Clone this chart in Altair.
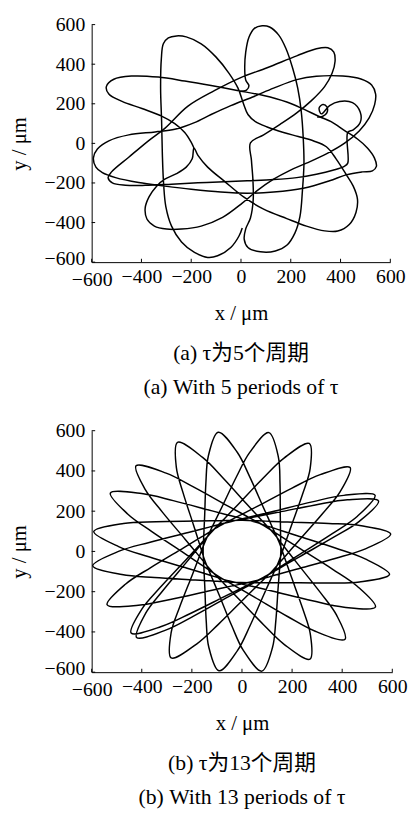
import altair as alt
import pandas as pd

FONT = "Liberation Serif, Noto Sans CJK SC"

# ---------------- panel (a): traced trajectory, two strokes (x, y in um) ----------------
a1_x = [5, -8, -41, -94, -134, -187, -239, -279, -302, -311, -316, -319, -323, -320, -312, -292, -259, -220,
        -160, -101, -48, -12, 9, 28, 58, 105, 171, 230, 290, 343, 382, 422, 451, 468, 462, 435, 389, 336,
        263, 184, 91, 12, -67, -134, -173, -189, -196, -220, -259, -306, -339, -369, -385, -378, -348, -299,
        -239, -160, -74, 5, 65, 131, 197, 263, 343, 415, 475, 515, 537, 541, 525, 482, 409, 303, 224, 131,
        52, -41, -120, -187, -266, -345, -451, -531, -577, -593, -583, -557, -504, -411, -306, -200, -81, 25,
        131, 250, 356, 422, 488, 528, 544, 536, 508, 468, 415, 362, 314, 250, 184, 91, -15, -120, -226, -332,
        -438, -511, -541, -531, -478, -398, -319, -266, -226, -202, -189]
a1_y = [-427, -468, -526, -568, -576, -551, -498, -418, -319, -203, -53, 113, 279, 428, 503, 533, 543, 538,
        503, 437, 354, 279, 204, 146, 110, 83, 55, 35, 13, -17, -78, -156, -216, -282, -349, -410, -443, -442,
        -418, -380, -332, -272, -191, -120, -61, -23, -78, -120, -153, -181, -216, -269, -327, -382, -418, -433,
        -433, -418, -374, -302, -239, -181, -136, -100, -53, 0, 63, 129, 196, 249, 295, 325, 340, 339, 322, 279,
        237, 191, 146, 105, 71, 58, 43, 13, -28, -73, -120, -148, -173, -198, -216, -232, -246, -252,
        -246, -227, -189, -159, -144, -139, -116, -73, -23, 22, 66, 110, 136, 174, 209, 242, 267, 292, 315, 335,
        340, 324, 287, 249, 212, 176, 138, 100, 55, 10, -23]

a2_x = [306, 327, 345, 345, 329, 314, 323, 356, 396, 448, 479, 479, 451, 429, 429, 415, 369, 303, 224, 131,
        25, -67, -173, -279, -385, -464, -517, -534, -520, -451, -372, -306, -213, -107, -1, 105, 224, 303,
        349, 373, 378, 366, 336, 283, 224, 157, 91, 38, 42, 48, 49, 38, 19, 13, 28, 78, 138, 184, 217, 237,
        247, 253, 250, 242, 228, 208, 181, 151, 115, 85, 54, 32, 19, 15, 19, 32, 22, -8]
a2_y = [133, 136, 154, 184, 196, 179, 149, 191, 212, 206, 159, 105, 68, 55, -100, -116, -136, -156, -173, -183,
        -189, -194, -199, -206, -212, -211, -199, -173, -144, -70, 13, 76, 188, 266, 332, 382, 442, 478,
        483, 461, 415, 354, 287, 216, 154, 96, 43, 3, -86, -186, -286, -377, -432, -485, -526, -548, -544, -515,
        -452, -369, -236, -103, 30, 163, 279, 378, 478, 548, 588, 594, 581, 536, 461, 378, 320, 291, 269, 262]

# ---------------- panel (b): rosette read in polar form (radius um, angle deg) ----------------
b_r = [155, 178, 234, 373, 493,
       600, 493, 373, 234, 178, 155, 178, 234, 373, 493,
       600, 493, 373, 234, 178, 155, 178, 234, 373, 493,
       600, 493, 373, 234, 178, 155, 178, 234, 373, 493,
       600, 493, 373, 234, 178, 155, 178, 234, 373, 493,
       600, 493, 373, 234, 178, 155, 178, 234, 373, 493,
       600, 493, 373, 234, 178, 155, 178, 234, 373, 493,
       600, 493, 373, 234, 178, 155, 178, 234, 373, 493,
       600, 493, 373, 234, 178, 155, 178, 234, 373, 493,
       600, 493, 373, 234, 178, 155, 178, 234, 373, 493,
       600, 493, 373, 234, 178, 155, 178, 234, 373, 493,
       600, 493, 373, 234, 178, 155, 178, 234, 373, 493,
       600, 493, 373, 234, 178, 155, 178, 234, 373, 493,
       600, 493, 373, 234, 178, 155, 178, 234, 373, 493,
       600, 493, 373, 234, 178, 155, 178, 234, 373, 493,
       600, 493, 373, 234, 178, 155, 178, 234, 373, 493,
       600, 493, 373, 234, 178, 155, 178, 234, 373, 493,
       600, 493, 373, 234, 178, 155, 178, 234, 373, 493,
       600, 493, 373, 234, 178, 155, 178, 234, 373, 493,
       600, 493, 373, 234, 178, 155, 178, 234, 373, 493,
       600, 493, 373, 234, 178, 155, 178, 234, 373, 493,
       600, 493, 373, 234, 178, 155, 178, 234, 373, 493,
       600, 493, 373, 234, 178, 155]
b_ang = [141.4, 172.9, 192.0, 208.8, 215.7,
         222.5, 229.2, 236.1, 252.9, 272.0, 303.5, 335.0, 354.1, 10.9, 17.8,
         24.7, 31.4, 38.3, 55.1, 74.2, 105.7, 137.2, 156.3, 173.1, 180.0,
         186.8, 193.5, 200.4, 217.2, 236.3, 267.8, 299.3, 318.4, 335.2, 342.1,
         349.0, 355.7, 2.6, 19.4, 38.5, 70.0, 101.5, 120.6, 137.4, 144.3,
         151.1, 157.8, 164.7, 181.5, 200.6, 232.1, 263.6, 282.7, 299.5, 306.4,
         313.3, 320.0, 326.9, 343.7, 2.8, 34.3, 65.8, 84.9, 101.7, 108.6,
         115.4, 122.1, 129.0, 145.8, 164.9, 196.4, 227.9, 247.0, 263.8, 270.7,
         277.6, 284.3, 291.2, 308.0, 327.1, 358.6, 30.1, 49.2, 66.0, 72.9,
         79.7, 86.4, 93.3, 110.1, 129.2, 160.7, 192.2, 211.3, 228.1, 235.0,
         241.9, 248.6, 255.5, 272.3, 291.4, 322.9, 354.4, 13.5, 30.3, 37.2,
         44.0, 50.7, 57.6, 74.4, 93.5, 125.0, 156.5, 175.6, 192.4, 199.3,
         206.2, 212.9, 219.8, 236.6, 255.7, 287.2, 318.7, 337.8, 354.6, 1.5,
         8.3, 15.0, 21.9, 38.7, 57.8, 89.3, 120.8, 139.9, 156.7, 163.6,
         170.5, 177.2, 184.1, 200.9, 220.0, 251.5, 283.0, 302.1, 318.9, 325.8,
         332.6, 339.3, 346.2, 3.0, 22.1, 53.6, 85.1, 104.2, 121.0, 127.9,
         134.8, 141.5, 148.4, 165.2, 184.3, 215.8, 247.3, 266.4, 283.2, 290.1,
         296.9, 303.6, 310.5, 327.3, 346.4, 17.9, 49.4, 68.5, 85.3, 92.2,
         99.1, 105.8, 112.7, 129.5, 148.6, 180.1, 211.6, 230.7, 247.5, 254.4,
         261.2, 267.9, 274.8, 291.6, 310.7, 342.2, 13.7, 32.8, 49.6, 56.5,
         63.4, 70.1, 77.0, 93.8, 112.9, 144.4, 175.9, 195.0, 211.8, 218.7,
         225.5, 232.2, 239.1, 255.9, 275.0, 306.5, 338.0, 357.1, 13.9, 20.8,
         27.7, 34.4, 41.3, 58.1, 77.2, 108.7]

tick_values = [-600, -400, -200, 0, 200, 400, 600]
cap_a = ["(a)  \u03c4\u4e3a5\u4e2a\u5468\u671f", "(a)  With 5 periods of  \u03c4"]
cap_b = ["(b)  \u03c4\u4e3a13\u4e2a\u5468\u671f", "(b)  With 13 periods of \u03c4"]

df_a = pd.DataFrame({
    "x": a1_x + a2_x,
    "y": a1_y + a2_y,
    "stroke": ["s1"] * len(a1_x) + ["s2"] * len(a2_x),
    "i": list(range(len(a1_x))) + list(range(len(a2_x))),
})
df_b = pd.DataFrame({"r": b_r, "ang": b_ang, "i": list(range(len(b_r)))})
df_t = pd.DataFrame({"t": tick_values})


def panel(line, w, h, caption, tick_dx, tick_dy):
    xs = alt.Scale(domain=[-600, 600], nice=False, zero=False)
    ys = alt.Scale(domain=[-600, 600], nice=False, zero=False)
    xaxis = alt.Axis(values=tick_values, title="x / \u03bcm", format="d",
                     labelPadding={"condition": {"test": "datum.value == -600", "value": 8}, "value": 5},
                     titlePadding=13, labelFlush=False, labelOverlap=False)
    yaxis = alt.Axis(values=tick_values, title="y / \u03bcm", format="d", labelPadding=7,
                     labelOffset={"condition": {"test": "datum.value == -600", "value": -4}, "value": 0},
                     titlePadding=15, labelFlush=False, labelOverlap=False)
    curve = line.mark_line(color="black", strokeWidth=1.5, interpolate="catmull-rom").encode(
        x=alt.X("x:Q", scale=xs, axis=xaxis),
        y=alt.Y("y:Q", scale=ys, axis=yaxis),
        order="i:Q",
    )
    xt = alt.Chart(df_t).mark_rule(color="black", strokeWidth=1).encode(
        x=alt.X("t:Q", scale=xs, axis=xaxis),
        y=alt.datum(-600),
        y2=alt.datum(-600 + tick_dy),
    )
    yt = alt.Chart(df_t).mark_rule(color="black", strokeWidth=1).encode(
        y=alt.Y("t:Q", scale=ys, axis=yaxis),
        x=alt.datum(-600),
        x2=alt.datum(-600 + tick_dx),
    )
    return alt.layer(curve, xt, yt).properties(
        width=w, height=h,
        title=alt.TitleParams(text=caption, orient="bottom", anchor="middle", frame="group",
                              font=FONT, fontSize=22, fontWeight="normal", color="black",
                              lineHeight=35, offset=20),
    )


line_a = alt.Chart(df_a).encode(detail="stroke:N")
line_b = alt.Chart(df_b).transform_calculate(
    x="datum.r * cos(datum.ang * PI / 180)",
    y="datum.r * sin(datum.ang * PI / 180)",
)

pa = panel(line_a, 303, 241, cap_a, 14, 17)
pb = panel(line_b, 305, 245, cap_b, 14, 17)

chart = alt.vconcat(pa, pb, spacing=23).properties(
    padding={"left": 8, "top": 9, "right": 5, "bottom": 5},
    background="white",
).configure_view(stroke=None).configure_axis(
    labelFont=FONT, labelFontSize=20, labelColor="black",
    titleFont=FONT, titleFontSize=21, titleFontWeight="normal", titleColor="black",
    domainColor="black", domainWidth=1, ticks=False, grid=False,
)

chart.save("out.html", embed_options={"renderer": "svg", "actions": False})
